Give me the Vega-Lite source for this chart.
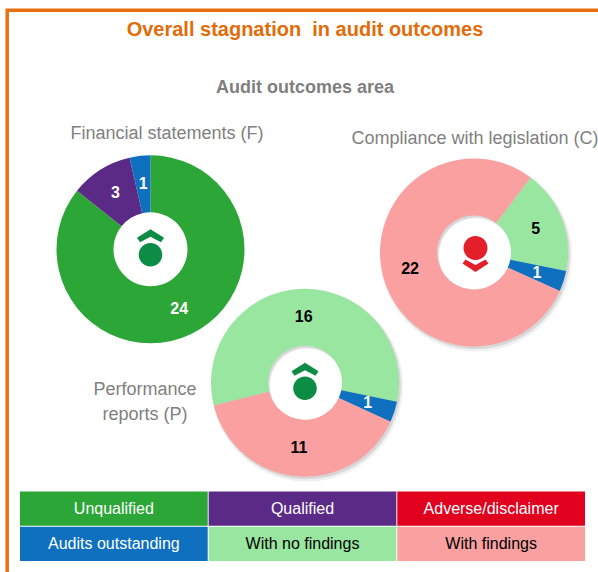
{
"$schema":"https://vega.github.io/schema/vega-lite/v6.json",
"width":598,"height":572,"padding":0,"autosize":"none","background":"white",
"config":{"view":{"stroke":null},"font":"Liberation Sans"},
"title":{"text":"Overall stagnation \u00a0in audit outcomes","subtitle":"Audit outcomes area","anchor":"middle","frame":"group","dx":6,"offset":-97,"font":"Liberation Sans","fontSize":20,"fontWeight":"bold","color":"#E36C0A","subtitleFont":"Liberation Sans","subtitleFontSize":18,"subtitleFontWeight":"bold","subtitleColor":"#7F7F7F","subtitlePadding":39},
"datasets":{
"outcomes":[
{"area":"Financial statements (F)","panel":1,"outcome":"Unqualified","seq":1,"count":24},
{"area":"Financial statements (F)","panel":1,"outcome":"Qualified","seq":2,"count":3},
{"area":"Financial statements (F)","panel":1,"outcome":"Audits outstanding","seq":3,"count":1},
{"area":"Compliance with legislation (C)","panel":2,"outcome":"With no findings","seq":1,"count":5},
{"area":"Compliance with legislation (C)","panel":2,"outcome":"Audits outstanding","seq":2,"count":1},
{"area":"Compliance with legislation (C)","panel":2,"outcome":"With findings","seq":3,"count":22},
{"area":"Performance reports (P)","panel":3,"outcome":"With no findings","seq":1,"count":16},
{"area":"Performance reports (P)","panel":3,"outcome":"Audits outstanding","seq":2,"count":1},
{"area":"Performance reports (P)","panel":3,"outcome":"With findings","seq":3,"count":11}],
"trends":[
{"area":"Financial statements (F)","panel":1,"trend":"stagnant up"},
{"area":"Compliance with legislation (C)","panel":2,"trend":"regressed"},
{"area":"Performance reports (P)","panel":3,"trend":"stagnant up"}],
"captions":[
{"caption":"Financial statements (F)","slot":1},
{"caption":"Compliance with legislation (C)","slot":2},
{"caption":"Performance","slot":3},
{"caption":"reports (P)","slot":4}],
"keyCells":[
{"outcome":"Unqualified","col":1,"row":1},
{"outcome":"Qualified","col":2,"row":1},
{"outcome":"Adverse/disclaimer","col":3,"row":1},
{"outcome":"Audits outstanding","col":1,"row":2},
{"outcome":"With no findings","col":2,"row":2},
{"outcome":"With findings","col":3,"row":2}],
"frame":[{"start":0,"end":1}]
},
"resolve":{"scale":{"x":"independent","y":"independent","theta":"independent"}},
"layer":[
{"data":{"name":"frame"},
 "mark":{"type":"rect","fill":"transparent","stroke":"#E8700E","strokeWidth":3.5},
 "encoding":{"x":{"field":"start","type":"quantitative","axis":null,"scale":{"domain":[0,1],"range":[7.2,660]}},"x2":{"field":"end"},
 "y":{"field":"start","type":"quantitative","axis":null,"scale":{"domain":[0,1],"range":[10.2,640]}},"y2":{"field":"end"}}},
{"data":{"name":"captions"},
 "mark":{"type":"text","fontSize":18,"color":"#808080","baseline":"middle","align":"center"},
 "encoding":{"text":{"field":"caption"},
 "x":{"field":"slot","type":"quantitative","axis":null,"scale":{"domain":[1,2,3,4],"range":[167,475,145,145]}},
 "y":{"field":"slot","type":"quantitative","axis":null,"scale":{"domain":[1,2,3,4],"range":[134,139,390,415]}}}},
{"data":{"name":"outcomes"},"transform":[{"filter":"datum.panel==1"}],
 "encoding":{
  "x":{"field":"panel","type":"quantitative","axis":null,"scale":{"domain":[1,2,3],"range":[150.5,474,305]}},
  "y":{"field":"panel","type":"quantitative","axis":null,"scale":{"domain":[1,2,3],"range":[249.3,252.5,382.7]}},
  "theta":{"field":"count","type":"quantitative","stack":true,"scale":{"domain":[0,28],"range":[0,6.2832]}},
  "order":{"field":"seq"},"detail":{"field":"outcome"}},
 "layer":[
  {"mark":{"type":"arc","innerRadius":37,"outerRadius":94},
   "encoding":{"color":{"field":"outcome","type":"nominal","legend":null,"scale":{"domain":["Unqualified","Qualified","Adverse/disclaimer","Audits outstanding","With no findings","With findings"],"range":["#2BA637","#5B2A86","#E2001F","#0E70BE","#98E6A0","#FAA0A0"]}}}},
  {"mark":{"type":"text","radius":66,"fontSize":16,"fontWeight":"bold","baseline":"middle","align":"center"},
   "encoding":{"text":{"field":"count"},"color":{"value":"white"}}}
 ]},
{"data":{"name":"outcomes"},"transform":[{"filter":"datum.panel==2"}],
 "encoding":{
  "x":{"field":"panel","type":"quantitative","axis":null,"scale":{"domain":[1,2,3],"range":[150.5,474,305]}},
  "y":{"field":"panel","type":"quantitative","axis":null,"scale":{"domain":[1,2,3],"range":[249.3,252.5,382.7]}},
  "theta":{"field":"count","type":"quantitative","stack":true,"scale":{"domain":[0,28],"range":[0.6458,6.929]}},
  "order":{"field":"seq"},"detail":{"field":"outcome"}},
 "layer":[
  {"mark":{"type":"arc","innerRadius":37,"outerRadius":96,"xOffset":2,"yOffset":3,"color":"#000000","opacity":0.06}},
  {"mark":{"type":"arc","innerRadius":37,"outerRadius":94.5,"xOffset":1.5,"yOffset":2,"color":"#000000","opacity":0.1}},
  {"mark":{"type":"arc","innerRadius":37,"outerRadius":94},
   "encoding":{"color":{"field":"outcome","type":"nominal","legend":null}}},
  {"mark":{"type":"text","radius":66,"fontSize":16,"fontWeight":"bold","baseline":"middle","align":"center"},
   "encoding":{"text":{"field":"count"},"color":{"condition":{"test":"datum.outcome==='Audits outstanding'","value":"white"},"value":"black"}}}
 ]},
{"data":{"name":"outcomes"},"transform":[{"filter":"datum.panel==3"}],
 "encoding":{
  "x":{"field":"panel","type":"quantitative","axis":null,"scale":{"domain":[1,2,3],"range":[150.5,474,305]}},
  "y":{"field":"panel","type":"quantitative","axis":null,"scale":{"domain":[1,2,3],"range":[249.3,252.5,382.7]}},
  "theta":{"field":"count","type":"quantitative","stack":true,"scale":{"domain":[0,28],"range":[-1.815,4.468]}},
  "order":{"field":"seq"},"detail":{"field":"outcome"}},
 "layer":[
  {"mark":{"type":"arc","innerRadius":37,"outerRadius":96,"xOffset":2,"yOffset":3,"color":"#000000","opacity":0.06}},
  {"mark":{"type":"arc","innerRadius":37,"outerRadius":94.5,"xOffset":1.5,"yOffset":2,"color":"#000000","opacity":0.1}},
  {"mark":{"type":"arc","innerRadius":37,"outerRadius":94},
   "encoding":{"color":{"field":"outcome","type":"nominal","legend":null}}},
  {"mark":{"type":"text","radius":66,"fontSize":16,"fontWeight":"bold","baseline":"middle","align":"center"},
   "encoding":{"text":{"field":"count"},"color":{"condition":{"test":"datum.outcome==='Audits outstanding'","value":"white"},"value":"black"}}}
 ]},
{"data":{"name":"trends"},
 "mark":{"type":"point","filled":true,"opacity":1,"strokeWidth":0,"size":4},
 "encoding":{
  "x":{"field":"panel","type":"quantitative","axis":null,"scale":{"domain":[1,2,3],"range":[150.5,474,305]}},
  "y":{"field":"panel","type":"quantitative","axis":null,"scale":{"domain":[1,2,3],"range":[249.3,252.5,382.7]}},
  "shape":{"field":"trend","type":"nominal","legend":null,"scale":{"domain":["stagnant up","regressed"],"range":[
   "M0,-20L13.5,-11.5L10.5,-7L0,-12.5L-10.5,-7L-13.5,-11.5ZM11.8,5.5A11.8,11.8 0 1 1 -11.8,5.5A11.8,11.8 0 1 1 11.8,5.5Z",
   "M1.5,19.5L14.5,11L11.5,7L1.5,12.5L-8.5,7L-11.5,11ZM13.5,-4.5A12,12 0 1 1 -10.5,-4.5A12,12 0 1 1 13.5,-4.5Z"]}},
  "fill":{"field":"trend","type":"nominal","legend":null,"scale":{"domain":["stagnant up","regressed"],"range":["#0C8C44","#E3202A"]}}}},
{"data":{"name":"keyCells"},
 "encoding":{
  "x":{"field":"col","type":"ordinal","axis":null,"scale":{"domain":[1,2,3],"range":[20,585],"paddingInner":0.005,"paddingOuter":0}},
  "y":{"field":"row","type":"ordinal","axis":null,"scale":{"domain":[1,2],"range":[491.5,561],"paddingInner":0.03,"paddingOuter":0}}},
 "layer":[
  {"mark":{"type":"rect"},"encoding":{"color":{"field":"outcome","type":"nominal","legend":null}}},
  {"mark":{"type":"text","fontSize":16,"baseline":"middle","align":"center"},
   "encoding":{"text":{"field":"outcome"},"color":{"condition":{"test":"datum.outcome==='With no findings'||datum.outcome==='With findings'","value":"black"},"value":"white"}}}
 ]}
]
}
